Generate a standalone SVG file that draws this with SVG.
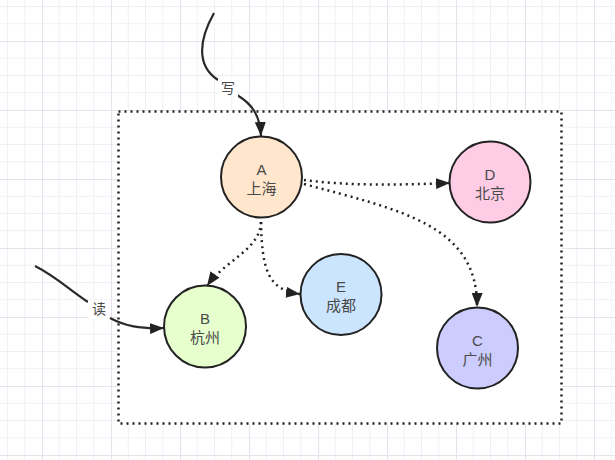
<svg xmlns="http://www.w3.org/2000/svg" width="615" height="460" viewBox="0 0 615 460">
<defs>
<pattern id="grid" x="-27" y="-28" width="69" height="69" patternUnits="userSpaceOnUse">
<path d="M17.25 0V69M34.5 0V69M51.75 0V69M0 17.25H69M0 34.5H69M0 51.75H69" stroke="#f1eff5" stroke-width="1" fill="none"/>
<path d="M0.5 0V69M0 0.5H69" stroke="#e6e3ec" stroke-width="1.2" fill="none"/>
</pattern>
<marker id="arr" viewBox="0 0 14 11" refX="14" refY="5.5" markerWidth="14" markerHeight="11" markerUnits="userSpaceOnUse" orient="auto">
<path d="M0 0L14 5.5L0 11Z" fill="#222"/>
</marker>
<style>
.node circle{stroke:#222;stroke-width:2}
.node text{font-family:"Liberation Sans","Noto Sans CJK SC",sans-serif;font-size:15px;fill:#4a4a4a;text-anchor:middle}
.solid{fill:none;stroke:#2a2a2a;stroke-width:2.2}
.dot{fill:none;stroke:#222;stroke-width:2.5;stroke-dasharray:2 4}
.lbl{font-family:"Liberation Sans","Noto Sans CJK SC",sans-serif;font-size:14px;fill:#4a4a4a;text-anchor:middle}
</style>
</defs>
<rect width="615" height="460" fill="#fff"/>
<rect width="615" height="460" fill="url(#grid)"/>
<rect x="118.5" y="111.5" width="443" height="312" fill="#fff" stroke="#222" stroke-width="2.5" stroke-dasharray="2 4"/>
<g id="connectors">
<path class="solid" d="M214 13C200 38 195 65 218 80"/>
<path class="solid" marker-end="url(#arr)" d="M237 95C252 104 260 115 261 136"/>
<rect x="218" y="79" width="20" height="18" fill="#fff"/>
<text class="lbl" x="228" y="93">写</text>
<path class="solid" d="M35 266C55 276 70 290 88 302"/>
<path class="solid" marker-end="url(#arr)" d="M110 318C125 326 140 329 164 328"/>
<rect x="88" y="300" width="22" height="18" fill="#fff"/>
<text class="lbl" x="99" y="314">读</text>
<path class="dot" marker-end="url(#arr)" d="M304 180C350 186 400 185 450 183"/>
<path class="dot" marker-end="url(#arr)" d="M304 184C400 210 478 225 477 307"/>
<path class="dot" marker-end="url(#arr)" d="M261 222C260 250 225 260 207 286"/>
<path class="dot" marker-end="url(#arr)" d="M261 222C262 270 268 290 300 294"/>
</g>
<g id="A" class="node"><circle cx="261.5" cy="177" r="40.5" fill="#ffe6cc"/><text x="261.5" y="175">A</text><text x="261.5" y="194">上海</text></g>
<g id="D" class="node"><circle cx="490" cy="182" r="40.5" fill="#ffcce6"/><text x="490" y="180">D</text><text x="490" y="199">北京</text></g>
<g id="B" class="node"><circle cx="205" cy="326.5" r="41" fill="#e6ffcc"/><text x="205" y="324">B</text><text x="205" y="343">杭州</text></g>
<g id="E" class="node"><circle cx="341" cy="294.5" r="40.5" fill="#cce5ff"/><text x="341" y="292">E</text><text x="341" y="311">成都</text></g>
<g id="C" class="node"><circle cx="477.5" cy="348" r="40.5" fill="#ccccff"/><text x="477.5" y="346">C</text><text x="477.5" y="365">广州</text></g>
</svg>
